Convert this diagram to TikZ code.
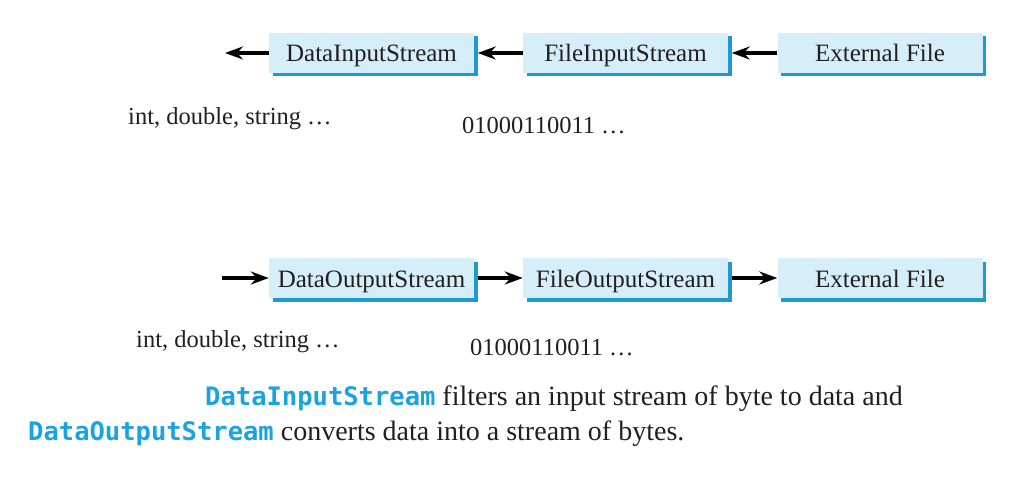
\documentclass[tikz,border=0pt]{standalone}
\usepackage{fontspec}
\setmainfont{Liberation Serif}
\newfontfamily\capmono{DejaVu Sans Mono}
\usetikzlibrary{arrows.meta,shadows}
\definecolor{boxfill}{HTML}{D6EEF9}
\definecolor{boxshade}{HTML}{1C9AD3}
\definecolor{txt}{HTML}{231F20}
\definecolor{codeblue}{HTML}{1BA3E0}
\tikzset{
  streambox/.style={fill=boxfill, minimum width=205pt, minimum height=40pt, inner sep=0pt,
    text height=18pt, text depth=0pt,
    text=txt, font=\fontsize{25}{30}\selectfont,
    general shadow={shadow xshift=3.5pt, shadow yshift=-3.5pt, fill=boxshade}},
  flow/.style={line width=3.2pt, -{Stealth[length=18pt,width=13pt,inset=6pt]}},
  datalabel/.style={anchor=base west, inner sep=0pt, text=txt, font=\fontsize{24.5}{29}\selectfont},
  caption/.style={anchor=base west, inner sep=0pt, text=txt, font=\fontsize{28}{34}\selectfont}
}
\begin{document}
\begin{tikzpicture}[x=1pt,y=-1pt]
\useasboundingbox (0,0) rectangle (1029,484);
% row 1
\node[streambox] (dis) at (371.5,53) {DataInputStream};
\node[streambox] (fis) at (625.5,53) {FileInputStream};
\node[streambox] (ext1) at (880,53) {External File};
\coordinate (out1) at (225,53);
\draw[flow] (dis.west) -- (out1);
\draw[flow] (fis.west) -- ([xshift=3.5pt]dis.east);
\draw[flow] (ext1.west) -- ([xshift=3.5pt]fis.east);
\node[datalabel] (l1) at (128,125) {int, double, string …};
\node[datalabel] (b1) at (462,134) {01000110011 …};
% row 2
\node[streambox] (dos) at (371.5,278) {DataOutputStream};
\node[streambox] (fos) at (625.5,278) {FileOutputStream};
\node[streambox] (ext2) at (880,278) {External File};
\coordinate (in2) at (222,278);
\draw[flow] (in2) -- (dos.west);
\draw[flow] ([xshift=3.5pt]dos.east) -- (fos.west);
\draw[flow] ([xshift=3.5pt]fos.east) -- (ext2.west);
\node[datalabel] (l2) at (136,347) {int, double, string …};
\node[datalabel] (b2) at (470,355) {01000110011 …};
% caption
\node[caption] (c1) at (205,405) {{\capmono\bfseries\fontsize{25.5}{30}\selectfont\color{codeblue}DataInputStream} filters an input stream of byte to data and};
\node[caption] (c2) at (28,440) {{\capmono\bfseries\fontsize{25.5}{30}\selectfont\color{codeblue}DataOutputStream} converts data into a stream of bytes.};
\end{tikzpicture}
\end{document}
